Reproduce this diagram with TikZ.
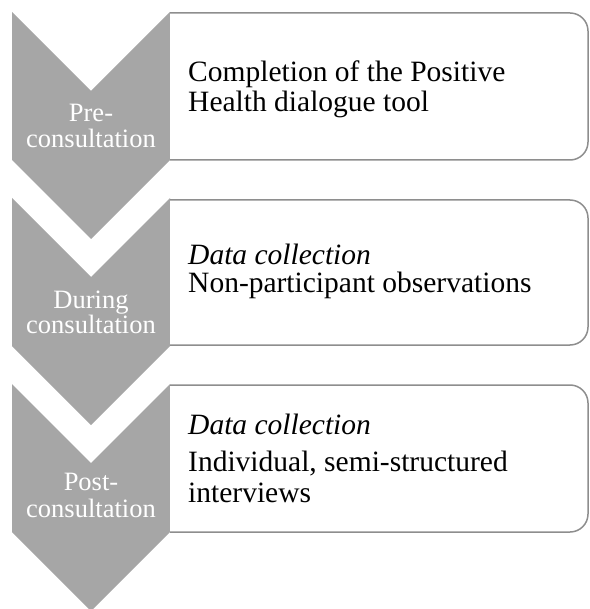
\documentclass[tikz,border=0pt]{standalone}
\usepackage{fontspec}
\setmainfont{Liberation Serif}
\definecolor{chev}{HTML}{A6A6A6}
\definecolor{boxline}{HTML}{8E8E8E}
\begin{document}
\begin{tikzpicture}[x=1pt,y=-1pt,
  chevron/.style={fill=chev,draw=none},
  stepbox/.style={draw=boxline,fill=white,line width=1.5pt,rounded corners=18pt},
  boxtext/.style={anchor=base west,inner sep=0pt,text=black,font=\fontsize{29.5}{32}\selectfont},
  chevtext/.style={anchor=base,inner sep=0pt,text=white,font=\fontsize{26.5}{28}\selectfont}]
\useasboundingbox (0,0) rectangle (589,609);
% chevrons
\foreach \T in {12,198,384}{
  \fill[chevron] (12,\T) -- (91,\T+79) -- (170,\T) -- (170,\T+148) -- (91,\T+227) -- (12,\T+148) -- cycle;
}
% boxes
\filldraw[stepbox] (170,13) -- (588,13) -- (588,160) -- (170,160);
\filldraw[stepbox] (170,200) -- (588,200) -- (588,345) -- (170,345);
\filldraw[stepbox] (170,385) -- (588,385) -- (588,532) -- (170,532);
% box texts
\node[boxtext] (b1a) at (188,82) {Completion of the Positive};
\node[boxtext] (b1b) at (188,112) {Health dialogue tool};
\node[boxtext] (b2a) at (188,264) {\itshape Data collection};
\node[boxtext] (b2b) at (188,292) {Non-participant observations};
\node[boxtext] (b3a) at (188,434) {\itshape Data collection};
\node[boxtext] (b3b) at (188,471) {Individual, semi-structured};
\node[boxtext] (b3c) at (188,502) {interviews};
% chevron texts
\node[chevtext] (c1a) at (91,122) {Pre-};
\node[chevtext] (c1b) at (91,148) {consultation};
\node[chevtext] (c2a) at (91,308) {During};
\node[chevtext] (c2b) at (91,333) {consultation};
\node[chevtext] (c3a) at (91,490) {Post-};
\node[chevtext] (c3b) at (91,517) {consultation};
\end{tikzpicture}
\end{document}
